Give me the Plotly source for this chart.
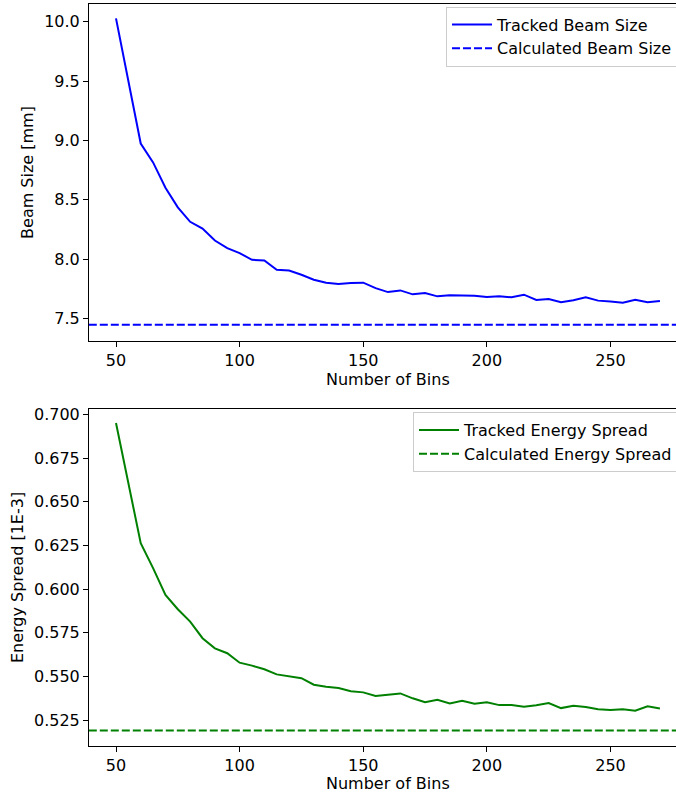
import plotly.graph_objects as go

# ---------------- data ----------------
bins = list(range(50, 275, 5))

tracked_beam_size = [
    10.028, 9.49, 8.974, 8.815, 8.602, 8.437, 8.315, 8.258, 8.157, 8.093,
    8.051, 7.995, 7.989, 7.911, 7.905, 7.869, 7.827, 7.802, 7.791, 7.799,
    7.802, 7.756, 7.723, 7.737, 7.704, 7.715, 7.687, 7.696, 7.696, 7.693,
    7.682, 7.687, 7.679, 7.701, 7.657, 7.665, 7.637, 7.654, 7.679, 7.651,
    7.643, 7.634, 7.659, 7.637, 7.648,
]
calculated_beam_size = 7.447

tracked_energy_spread = [
    0.6951, 0.6607, 0.6263, 0.6120, 0.5967, 0.5885, 0.5814, 0.5719, 0.5661, 0.5633,
    0.5579, 0.5562, 0.5541, 0.5512, 0.5499, 0.5490, 0.5453, 0.5441, 0.5434, 0.5416,
    0.5409, 0.5388, 0.5395, 0.5403, 0.5375, 0.5352, 0.5367, 0.5346, 0.5361, 0.5344,
    0.5352, 0.5336, 0.5336, 0.5327, 0.5335, 0.5348, 0.5319, 0.5332, 0.5325, 0.5313,
    0.5308, 0.5312, 0.5304, 0.5329, 0.5317,
]
calculated_energy_spread = 0.5191

x_title = "Number of Bins"
y_title_top = "Beam Size [mm]"
y_title_bottom = "Energy Spread [1E-3]"

# ---------------- layout constants ----------------
W, H = 676, 793
ML, MR, MT, MB = 89, 0, 4, 47
x_range = [39.08, 276.5]
x_full = [39.0, 281.0]
y_range_top = [7.311, 10.149]
y_range_bottom = [0.5102, 0.7031]

FONT = "DejaVu Sans"
FS = 16
plot_h = H - MT - MB
plot_w = W - ML - MR


def py(px_from_top):
    return (H - MB - px_from_top) / plot_h


def px(px_from_left):
    return (px_from_left - ML) / plot_w


fig = go.Figure()

fig.add_trace(go.Scatter(
    x=bins, y=tracked_beam_size, mode="lines", name="Tracked Beam Size",
    line=dict(color="#0000ff", width=2), xaxis="x", yaxis="y", legend="legend",
))
fig.add_trace(go.Scatter(
    x=x_full, y=[calculated_beam_size] * 2, mode="lines", name="Calculated Beam Size",
    line=dict(color="#0000ff", width=2, dash="8px,3px"), xaxis="x", yaxis="y", legend="legend",
))
fig.add_trace(go.Scatter(
    x=bins, y=tracked_energy_spread, mode="lines", name="Tracked Energy Spread",
    line=dict(color="#008000", width=2), xaxis="x2", yaxis="y2", legend="legend2",
))
fig.add_trace(go.Scatter(
    x=x_full, y=[calculated_energy_spread] * 2, mode="lines", name="Calculated Energy Spread",
    line=dict(color="#008000", width=2, dash="8px,3px"), xaxis="x2", yaxis="y2", legend="legend2",
))

axis_common = dict(
    showgrid=False, zeroline=False, showline=True, linecolor="black", linewidth=1,
    ticks="outside", ticklen=5, tickwidth=1, tickcolor="black",
    tickfont=dict(family=FONT, size=FS, color="black"),
)

top_dom = [py(341), 1.0]
bot_dom = [0.0, py(409)]

legend_common = dict(
    xanchor="left", yanchor="top",
    bgcolor="rgba(255,255,255,0.8)", bordercolor="#cccccc", borderwidth=1,
    font=dict(family=FONT, size=FS, color="black"), tracegroupgap=0, itemwidth=40,
)

fig.update_layout(
    width=W, height=H,
    margin=dict(l=ML, r=MR, t=MT, b=MB, autoexpand=False),
    paper_bgcolor="white", plot_bgcolor="white",
    font=dict(family=FONT, size=FS, color="black"),
    xaxis=dict(axis_common, domain=[0, 1], anchor="y", range=x_range,
               tick0=50, dtick=50, mirror=True),
    yaxis=dict(axis_common, domain=top_dom, anchor="x", range=y_range_top,
               tick0=7.5, dtick=0.5, tickformat=".1f",
               title=dict(text=y_title_top, font=dict(family=FONT, size=FS), standoff=6)),
    xaxis2=dict(axis_common, domain=[0, 1], anchor="y2", range=x_range,
                tick0=50, dtick=50, mirror=True),
    yaxis2=dict(axis_common, domain=bot_dom, anchor="x2", range=y_range_bottom,
                tick0=0.525, dtick=0.025, tickformat=".3f",
                title=dict(text=y_title_bottom, font=dict(family=FONT, size=FS), standoff=6)),
    legend=dict(legend_common, x=px(446), y=py(6.5)),
    legend2=dict(legend_common, x=px(413), y=py(412)),
    showlegend=True,
    annotations=[
        dict(text=x_title, xref="paper", yref="paper", x=px(388), y=py(379.5),
             xanchor="center", yanchor="middle", showarrow=False,
             font=dict(family=FONT, size=FS, color="black")),
        dict(text=x_title, xref="paper", yref="paper", x=px(388), y=py(783.5),
             xanchor="center", yanchor="middle", showarrow=False,
             font=dict(family=FONT, size=FS, color="black")),
    ],
)

fig.write_html("out.html")
